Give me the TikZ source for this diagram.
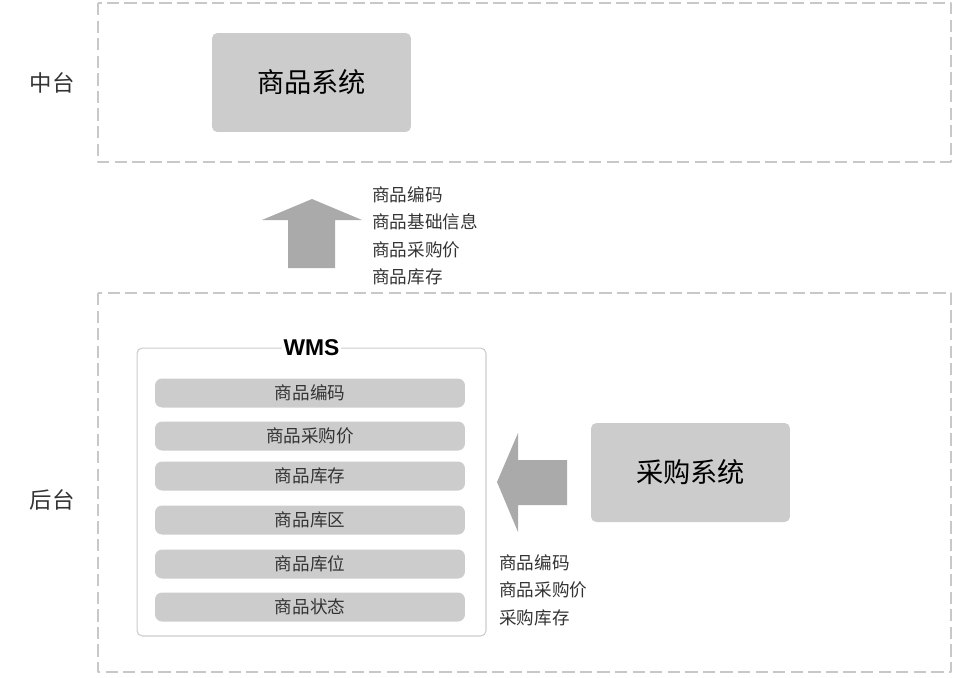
\documentclass[tikz,border=0pt]{standalone}
\usepackage{fontspec}
\setmainfont{Noto Sans CJK SC}
\newfontfamily\latinfont{Liberation Sans}
\usetikzlibrary{positioning}
\definecolor{boxgray}{HTML}{CCCCCC}
\definecolor{arrowgray}{HTML}{AAAAAA}
\definecolor{linegray}{HTML}{C8C8C8}
\definecolor{textdark}{HTML}{333333}
\begin{document}
\begin{tikzpicture}[x=0.02cm, y=-0.02cm, font=\fontsize{10}{15.7}\selectfont, line join=round, text=textdark]
\tikzset{layer/.style={draw=linegray, line width=0.6pt, dash pattern=on 7pt off 3pt},
  sysbox/.style={fill=boxgray, rounded corners=3pt, minimum width=3.98cm, minimum height=1.98cm, font=\fontsize{15.5}{18}\selectfont, text=black},
  field/.style={fill=boxgray, rounded corners=4pt, minimum width=6.2cm, minimum height=0.58cm},
  fieldlist/.style={align=left, anchor=north west, inner sep=0pt},
  fatarrow/.style={fill=arrowgray}}
\useasboundingbox (0,0) rectangle (972,677);
% layers
\draw[layer] (98,3) rectangle (951,162);
\draw[layer] (98,293) rectangle (951,672);
\node[font=\fontsize{12.75}{15}\selectfont] (mid) at (52,83) {中台};
\node[font=\fontsize{12.75}{15}\selectfont] (back) at (52,500) {后台};
% systems
\node[sysbox] (goods) at (311.5,82.5) {商品系统};
\node[sysbox] (purchase) at (690.5,472.5) {采购系统};
\node[draw=boxgray, line width=0.6pt, rounded corners=3pt, minimum width=6.98cm, minimum height=5.76cm] (wms) at (311.5,492) {};
\node[fill=white, inner sep=1pt, font=\latinfont\bfseries\fontsize{13}{15}\selectfont, text=black] (wmstitle) at (wms.north) {WMS};
\foreach \y/\t [count=\i] in {393/商品编码, 436/商品采购价, 476/商品库存, 520/商品库区, 564/商品库位, 607/商品状态}
  \node[field] (f\i) at (310,\y) {\t};
% flows
\fill[fatarrow] (312,199) -- (362,220) -- (335,220) -- (335,268) -- (288,268) -- (288,220) -- (262,220) -- cycle;
\fill[fatarrow] (497,482) -- (518,433) -- (518,460) -- (567,460) -- (567,505) -- (518,505) -- (518,532) -- cycle;
\node[fieldlist] (uplist) at (372,186) {商品编码\\商品基础信息\\商品采购价\\商品库存};
\node[fieldlist] (leftlist) at (499,554) {商品编码\\商品采购价\\采购库存};
\end{tikzpicture}
\end{document}
